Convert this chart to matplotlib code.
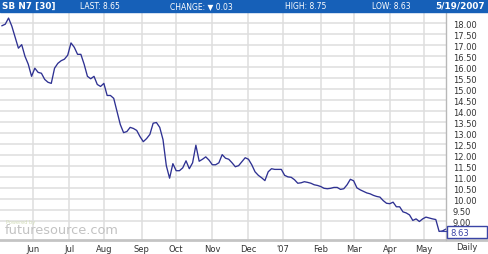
import matplotlib
matplotlib.use("Agg")
import matplotlib.pyplot as plt
from matplotlib.patches import Rectangle
from matplotlib.lines import Line2D
import numpy as np
import pandas as pd

# sugar futures SB N7, daily closes read every 2nd session
days = pd.bdate_range("2006-05-05", "2007-05-18")
closes = [
    17.88, 17.95, 18.23, 17.86, 17.36, 16.86, 17.02, 16.49, 16.13, 15.58,
    15.95, 15.76, 15.72, 15.44, 15.31, 15.26, 15.95, 16.17, 16.29, 16.36,
    16.54, 17.10, 16.90, 16.58, 16.58, 16.13, 15.58, 15.47, 15.58, 15.21,
    15.12, 15.26, 14.71, 14.71, 14.58, 13.98, 13.39, 13.02, 13.07, 13.26,
    13.21, 13.12, 12.84, 12.61, 12.75, 12.94, 13.45, 13.48, 13.26, 12.70,
    11.52, 10.95, 11.61, 11.29, 11.29, 11.42, 11.74, 11.38, 11.65, 12.45,
    11.72, 11.81, 11.92, 11.77, 11.56, 11.56, 11.65, 12.02, 11.86, 11.81,
    11.65, 11.47, 11.52, 11.70, 11.88, 11.81, 11.56, 11.24, 11.08, 10.97,
    10.84, 11.24, 11.38, 11.35, 11.35, 11.35, 11.08, 11.01, 10.99, 10.88,
    10.72, 10.74, 10.79, 10.76, 10.72, 10.65, 10.62, 10.57, 10.49, 10.47,
    10.49, 10.53, 10.53, 10.44, 10.47, 10.65, 10.90, 10.83, 10.51, 10.42,
    10.35, 10.28, 10.24, 10.17, 10.12, 10.09, 9.93, 9.81, 9.79, 9.86,
    9.65, 9.65, 9.42, 9.37, 9.28, 9.03, 9.10, 8.98, 9.10, 9.18,
    9.14, 9.10, 9.07, 8.53, 8.55, 8.63,
]
month_labels = ["Jun", "Jul", "Aug", "Sep", "Oct", "Nov", "Dec", "'07",
                "Feb", "Mar", "Apr", "May"]
price_ticks = [18.0, 17.5, 17.0, 16.5, 16.0, 15.5, 15.0, 14.5, 14.0, 13.5,
               13.0, 12.5, 12.0, 11.5, 11.0, 10.5, 10.0, 9.5, 9.0]
header = {"symbol": "SB N7 [30]", "last": "8.65", "change": "0.03",
          "high": "8.75", "low": "8.63", "date": "5/19/2007"}

W, H = 489, 255
fig = plt.figure(figsize=(W / 100, H / 100), dpi=100)
fig.patch.set_facecolor("white")

# px helpers (figure fractions)
fx = lambda px: px / W
fy = lambda py: 1 - py / H

ax = fig.add_axes([0, fy(241), fx(446), fy(12) - fy(241)])
sess = np.arange(len(days))[::2][:len(closes)]
ax.plot(sess, closes, color="#2e3192", lw=0.95, solid_joinstyle="round")
ax.set_xlim(-1.2, len(days) - 0.8)
ax.set_ylim(8.14, 18.55)

# month gridlines at first session of each month
month_start = [i for i in range(1, len(days)) if days[i].month != days[i - 1].month]
ax.set_xticks(month_start)
ax.set_xticklabels(month_labels[:len(month_start)])
ax.set_yticks(price_ticks)
ax.set_yticklabels(["%.2f" % v for v in price_ticks])
ax.yaxis.tick_right()
ax.tick_params(axis="y", length=0, pad=5, labelsize=6, labelcolor="#333333")
ax.tick_params(axis="x", length=0, pad=3, labelsize=6, labelcolor="#333333")
ax.grid(True, color="#dedede", lw=1.1)
ax.set_axisbelow(True)
for s in ax.spines.values():
    s.set_visible(False)

# frame lines
fig.add_artist(Line2D([0, 1], [fy(241), fy(241)], color="#c4c4c4", lw=2))
fig.add_artist(Line2D([fx(446.5), fx(446.5)], [fy(12), fy(241)], color="#b8b8b8", lw=1))

# header bar
fig.add_artist(Rectangle((0, fy(12.5)), 1, 1 - fy(12.5), color="#1660b8", zorder=5))
hy = fy(6.3)
fig.text(fx(2), hy, header["symbol"], color="white", fontsize=6.4, fontweight="bold",
         va="center", ha="left", zorder=6)
fig.text(fx(80), hy, "LAST: " + header["last"], color="white", fontsize=5.5,
         va="center", ha="left", zorder=6)
fig.text(fx(170), hy, "CHANGE: \u25bc " + header["change"], color="white", fontsize=5.5,
         va="center", ha="left", zorder=6)
fig.text(fx(285), hy, "HIGH: " + header["high"], color="white", fontsize=5.5,
         va="center", ha="left", zorder=6)
fig.text(fx(372), hy, "LOW: " + header["low"], color="white", fontsize=5.5,
         va="center", ha="left", zorder=6)
fig.text(fx(485), hy, header["date"], color="white", fontsize=6.4, fontweight="bold",
         va="center", ha="right", zorder=6)

# last value box
fig.add_artist(Rectangle((fx(447), fy(239)), fx(40), fy(227) - fy(239), fill=True,
                         facecolor="white", edgecolor="#3a44a6", lw=1, zorder=5))
fig.text(fx(450), fy(233.3), "%.2f" % closes[-1], color="#3a44a6", fontsize=6,
         va="center", ha="left", zorder=6)
fig.add_artist(Line2D([fx(441), fx(447)], [fy(232), fy(232)], color="#3a44a6", lw=0.8))

fig.text(fx(467), fy(247.5), "Daily", color="#333333", fontsize=6, va="center", ha="center")

# watermark
fig.text(fx(6), fy(223), "Powered by", color="#d2dcb8", fontsize=3.6,
         va="center", ha="left")
fig.text(fx(5), fy(231), "futuresource.com", color="#c2c2c2", fontsize=9.3,
         va="center", ha="left")

fig.savefig("out.png", dpi=100)
